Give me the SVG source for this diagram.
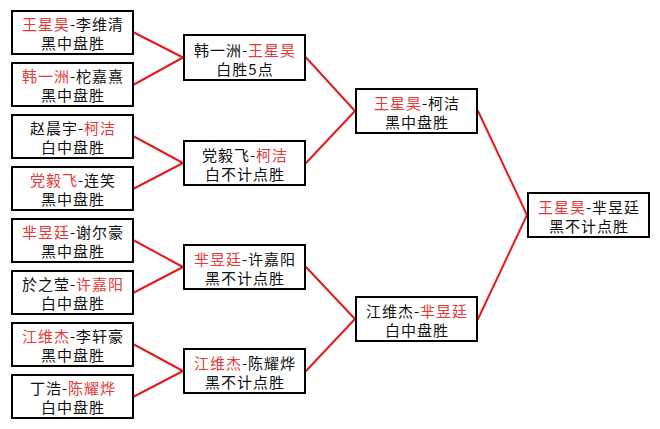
<svg xmlns="http://www.w3.org/2000/svg" width="660" height="429" viewBox="0 0 660 429">
<style>
.box{fill:#fff;stroke:#000;stroke-width:2}
.t{font-family:"Noto Sans CJK SC","Noto Sans CJK JP",sans-serif;font-size:15px;fill:#111;text-anchor:middle;letter-spacing:1px}
.r{fill:#e23a3a}
.c line{stroke:#e31b1b;stroke-width:2;stroke-linecap:round}
</style>
<rect width="660" height="429" fill="#fff"/>
<g class="c" id="connectors">
<line x1="134" y1="32.5" x2="183" y2="57.5"/>
<line x1="134" y1="84.5" x2="183" y2="57.5"/>
<line x1="134" y1="136.5" x2="183" y2="163"/>
<line x1="134" y1="188.5" x2="183" y2="163"/>
<line x1="134" y1="240.5" x2="183" y2="267"/>
<line x1="134" y1="292.5" x2="183" y2="267"/>
<line x1="134" y1="344.5" x2="183" y2="371"/>
<line x1="134" y1="396.5" x2="183" y2="371"/>
<line x1="306" y1="57.5" x2="355" y2="111"/>
<line x1="306" y1="163" x2="355" y2="111"/>
<line x1="306" y1="267" x2="355" y2="319"/>
<line x1="306" y1="371" x2="355" y2="319"/>
<line x1="478" y1="111" x2="527" y2="215"/>
<line x1="478" y1="319" x2="527" y2="215"/>
</g>
<g id="n1"><rect class="box" x="12" y="11" width="121" height="43"/>
<text class="t" x="73" y="29.5"><tspan class="r">王星昊</tspan>-李维清</text>
<text class="t" x="73" y="49">黑中盘胜</text></g>
<g id="n2"><rect class="box" x="12" y="63" width="121" height="43"/>
<text class="t" x="73" y="81.5"><tspan class="r">韩一洲</tspan>-柁嘉熹</text>
<text class="t" x="73" y="101">黑中盘胜</text></g>
<g id="n3"><rect class="box" x="12" y="115" width="121" height="43"/>
<text class="t" x="73" y="133.5">赵晨宇-<tspan class="r">柯洁</tspan></text>
<text class="t" x="73" y="153">白中盘胜</text></g>
<g id="n4"><rect class="box" x="12" y="167" width="121" height="43"/>
<text class="t" x="73" y="185.5"><tspan class="r">党毅飞</tspan>-连笑</text>
<text class="t" x="73" y="205">黑中盘胜</text></g>
<g id="n5"><rect class="box" x="12" y="219" width="121" height="43"/>
<text class="t" x="73" y="237.5"><tspan class="r">芈昱廷</tspan>-谢尔豪</text>
<text class="t" x="73" y="257">黑中盘胜</text></g>
<g id="n6"><rect class="box" x="12" y="271" width="121" height="43"/>
<text class="t" x="73" y="289.5">於之莹-<tspan class="r">许嘉阳</tspan></text>
<text class="t" x="73" y="309">白中盘胜</text></g>
<g id="n7"><rect class="box" x="12" y="323" width="121" height="43"/>
<text class="t" x="73" y="341.5"><tspan class="r">江维杰</tspan>-李轩豪</text>
<text class="t" x="73" y="361">黑中盘胜</text></g>
<g id="n8"><rect class="box" x="12" y="375" width="121" height="43"/>
<text class="t" x="73" y="393.5">丁浩-<tspan class="r">陈耀烨</tspan></text>
<text class="t" x="73" y="413">白中盘胜</text></g>
<g id="s1"><rect class="box" x="184" y="35" width="121" height="45"/>
<text class="t" x="245" y="55.5">韩一洲-<tspan class="r">王星昊</tspan></text>
<text class="t" x="245" y="75">白胜5点</text></g>
<g id="s2"><rect class="box" x="184" y="141" width="121" height="44"/>
<text class="t" x="245" y="160.5">党毅飞-<tspan class="r">柯洁</tspan></text>
<text class="t" x="245" y="180">白不计点胜</text></g>
<g id="s3"><rect class="box" x="184" y="245" width="121" height="44"/>
<text class="t" x="245" y="264.5"><tspan class="r">芈昱廷</tspan>-许嘉阳</text>
<text class="t" x="245" y="284">黑不计点胜</text></g>
<g id="s4"><rect class="box" x="184" y="349" width="121" height="44"/>
<text class="t" x="245" y="368.5"><tspan class="r">江维杰</tspan>-陈耀烨</text>
<text class="t" x="245" y="388">黑不计点胜</text></g>
<g id="f1"><rect class="box" x="356" y="89" width="121" height="44"/>
<text class="t" x="417" y="108.5"><tspan class="r">王星昊</tspan>-柯洁</text>
<text class="t" x="417" y="128">黑中盘胜</text></g>
<g id="f2"><rect class="box" x="356" y="297" width="121" height="44"/>
<text class="t" x="417" y="316.5">江维杰-<tspan class="r">芈昱廷</tspan></text>
<text class="t" x="417" y="336">白中盘胜</text></g>
<g id="final"><rect class="box" x="528" y="193" width="121" height="44"/>
<text class="t" x="589" y="212.5"><tspan class="r">王星昊</tspan>-芈昱廷</text>
<text class="t" x="589" y="232">黑不计点胜</text></g>
</svg>
